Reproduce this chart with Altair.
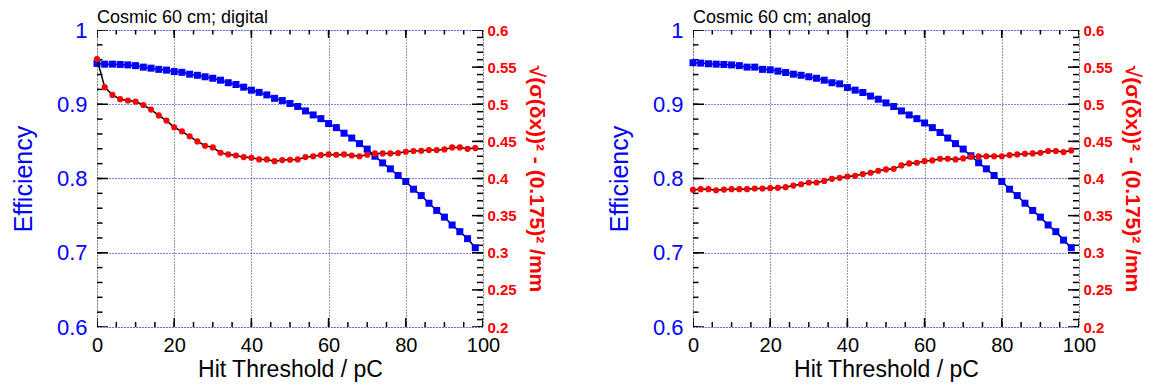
import altair as alt
import pandas as pd

FONT = "Liberation Sans"

# Hit threshold values (pC)
thresholds = [0, 2, 4, 6, 8, 10, 12, 14, 16, 18, 20, 22, 24, 26, 28, 30, 32, 34, 36, 38,
              40, 42, 44, 46, 48, 50, 52, 54, 56, 58, 60, 62, 64, 66, 68, 70, 72, 74, 76, 78,
              80, 82, 84, 86, 88, 90, 92, 94, 96, 98]

# Digital readout
eff_digital = [0.955, 0.954, 0.954, 0.9536, 0.953, 0.952, 0.950, 0.9486, 0.947, 0.946,
               0.944, 0.943, 0.9405, 0.939, 0.937, 0.935, 0.9324, 0.929, 0.9266, 0.923,
               0.919, 0.916, 0.9126, 0.908, 0.905, 0.901, 0.897, 0.891, 0.8856, 0.8806,
               0.874, 0.8685, 0.861, 0.8545, 0.847, 0.8396, 0.830, 0.821, 0.813, 0.804,
               0.796, 0.7856, 0.777, 0.7667, 0.757, 0.748, 0.7374, 0.7284, 0.719, 0.7068]
res_digital = [0.5608, 0.523, 0.5126, 0.5068, 0.505, 0.5036, 0.499, 0.4928, 0.485, 0.478,
               0.469, 0.4635, 0.4568, 0.450, 0.4441, 0.4419, 0.4347, 0.4324, 0.431, 0.4288,
               0.428, 0.4257, 0.4257, 0.4234, 0.4248, 0.4252, 0.4257, 0.4288, 0.430, 0.4315,
               0.4324, 0.432, 0.4324, 0.431, 0.430, 0.432, 0.4338, 0.4338, 0.4338, 0.4342,
               0.436, 0.437, 0.4374, 0.4383, 0.4383, 0.4392, 0.4419, 0.4419, 0.440, 0.441]

# Analog readout
eff_analog = [0.9559, 0.9554, 0.9545, 0.954, 0.9536, 0.953, 0.952, 0.950, 0.950, 0.947,
              0.9464, 0.9446, 0.9428, 0.9405, 0.939, 0.937, 0.935, 0.9324, 0.929, 0.9275,
              0.9225, 0.919, 0.9158, 0.911, 0.9068, 0.9018, 0.897, 0.891, 0.8856, 0.8806,
              0.8748, 0.8685, 0.862, 0.8545, 0.847, 0.8396, 0.8306, 0.8212, 0.813, 0.804,
              0.796, 0.7856, 0.777, 0.7667, 0.757, 0.748, 0.7374, 0.7284, 0.717, 0.7068]
res_analog = [0.3847, 0.3856, 0.3856, 0.3842, 0.3851, 0.3856, 0.3856, 0.3856, 0.3865, 0.3865,
              0.387, 0.3874, 0.3883, 0.3905, 0.3923, 0.3946, 0.3946, 0.3968, 0.3995, 0.4009,
              0.4027, 0.4036, 0.4059, 0.4077, 0.4104, 0.4122, 0.413, 0.4176, 0.4203, 0.4212,
              0.4234, 0.4243, 0.4266, 0.4266, 0.4257, 0.427, 0.4293, 0.4297, 0.430, 0.430,
              0.430, 0.4315, 0.4324, 0.4333, 0.4338, 0.4347, 0.437, 0.437, 0.4356, 0.4378]

# Axis tick values
x_major = [0, 20, 40, 60, 80, 100]
x_minor = [0, 5, 10, 15, 20, 25, 30, 35, 40, 45, 50, 55, 60, 65, 70, 75, 80, 85, 90, 95, 100]
eff_major = [0.6, 0.7, 0.8, 0.9, 1.0]
eff_minor = [round(0.6 + 0.02 * i, 2) for i in range(21)]
res_major = [0.2, 0.25, 0.3, 0.35, 0.4, 0.45, 0.5, 0.55, 0.6]
res_minor = [round(0.2 + 0.01 * i, 2) for i in range(41)]

RES_TITLE = "√(σ(δx))² - (0.175)²  /mm"


def panel(title, eff, res):
    df = pd.DataFrame({"thr": thresholds, "eff": eff, "res": res})

    def xs():
        return alt.Scale(domain=[0, 100], nice=False, zero=False)

    def ysl():
        return alt.Scale(domain=[0.6, 1.0], nice=False, zero=False)

    def ysr():
        return alt.Scale(domain=[0.2, 0.6], nice=False, zero=False)

    x_axis = alt.Axis(orient="bottom", values=x_major, format="d", ticks=False,
                      domain=False, grid=True, gridColor="#333333", gridDash=[1, 2],
                      gridWidth=1, labelFontSize=20, labelColor="black", labelPadding=8,
                      labelFont=FONT, labelFlush=False,
                      title="Hit Threshold / pC", titleFontSize=23,
                      titleFontWeight="normal", titleFont=FONT, titleColor="black",
                      titlePadding=3)
    yl_axis = alt.Axis(orient="left", values=eff_major, format=".1~f", ticks=False,
                       domain=False, grid=True, gridColor="blue", gridDash=[1, 2],
                       gridWidth=1, labelColor="blue", labelFontSize=22, labelPadding=10,
                       labelFont=FONT, labelFlush=False, title="Efficiency",
                       titleColor="blue", titleFontSize=25, titleFontWeight="normal",
                       titleFont=FONT, titlePadding=20)
    yr_axis = alt.Axis(orient="right", values=res_major, format=".2~f", ticks=False,
                       domain=False, grid=False, labelColor="red", labelFontSize=15,
                       labelFontWeight="bold", labelPadding=4, labelFont=FONT,
                       labelFlush=False, title=RES_TITLE, titleColor="red",
                       titleFontSize=21, titleFontWeight="bold", titleFont=FONT,
                       titlePadding=9)

    base = alt.Chart(df)

    blue_line = base.mark_line(color="black", strokeWidth=1.5).encode(
        x=alt.X("thr:Q", scale=xs(), axis=x_axis),
        y=alt.Y("eff:Q", scale=ysl(), axis=yl_axis))
    blue_pts = base.mark_square(color="blue", size=49, opacity=1).encode(
        x=alt.X("thr:Q", scale=xs(), axis=None),
        y=alt.Y("eff:Q", scale=ysl(), axis=None))
    red_line = base.mark_line(color="black", strokeWidth=1.5).encode(
        x=alt.X("thr:Q", scale=xs(), axis=None),
        y=alt.Y("res:Q", scale=ysr(), axis=yr_axis))
    red_pts = base.mark_point(shape="circle", filled=True, color="red", size=38,
                              opacity=1).encode(
        x=alt.X("thr:Q", scale=xs(), axis=None),
        y=alt.Y("res:Q", scale=ysr(), axis=None))

    def ytick(values, size, xpos, scale):
        return alt.Chart(pd.DataFrame({"v": values})).mark_tick(
            orient="horizontal", size=size, thickness=1.5, color="black", clip=True,
            opacity=1).encode(x=alt.XDatum(xpos, scale=xs(), axis=None),
                              y=alt.Y("v:Q", scale=scale, axis=None))

    def xtick(values, size, ypos):
        return alt.Chart(pd.DataFrame({"v": values})).mark_tick(
            orient="vertical", size=size, thickness=1.5, color="black", clip=True,
            opacity=1).encode(x=alt.X("v:Q", scale=xs(), axis=None),
                              y=alt.YDatum(ypos, scale=ysl(), axis=None))

    layers = [
        blue_line,
        ytick(eff_major, 22, 0, ysl()),
        ytick(eff_minor, 11, 0, ysl()),
        ytick(res_major, 22, 100, ysr()),
        ytick(res_minor, 12, 100, ysr()),
        xtick(x_major, 18, 0.6),
        xtick(x_minor, 10, 0.6),
        xtick(x_major, 16, 1.0),
        xtick(x_minor, 9, 1.0),
        blue_pts,
        red_line,
        red_pts,
    ]

    return alt.layer(*layers).resolve_scale(x="independent", y="independent").properties(
        width=386, height=297,
        title=alt.TitleParams(title, anchor="start", frame="group", fontSize=18,
                              fontWeight="normal", font=FONT, color="black", offset=-8))


chart = alt.hconcat(
    panel("Cosmic 60 cm; digital", eff_digital, res_digital),
    panel("Cosmic 60 cm; analog", eff_analog, res_analog),
    spacing=59,
).properties(padding={"left": 2, "top": 0, "right": 3, "bottom": 0}).configure_view(
    stroke="black", strokeWidth=1.5
).configure(font=FONT, background="white")

chart.save("out.html", embed_options={"renderer": "svg", "actions": False})
